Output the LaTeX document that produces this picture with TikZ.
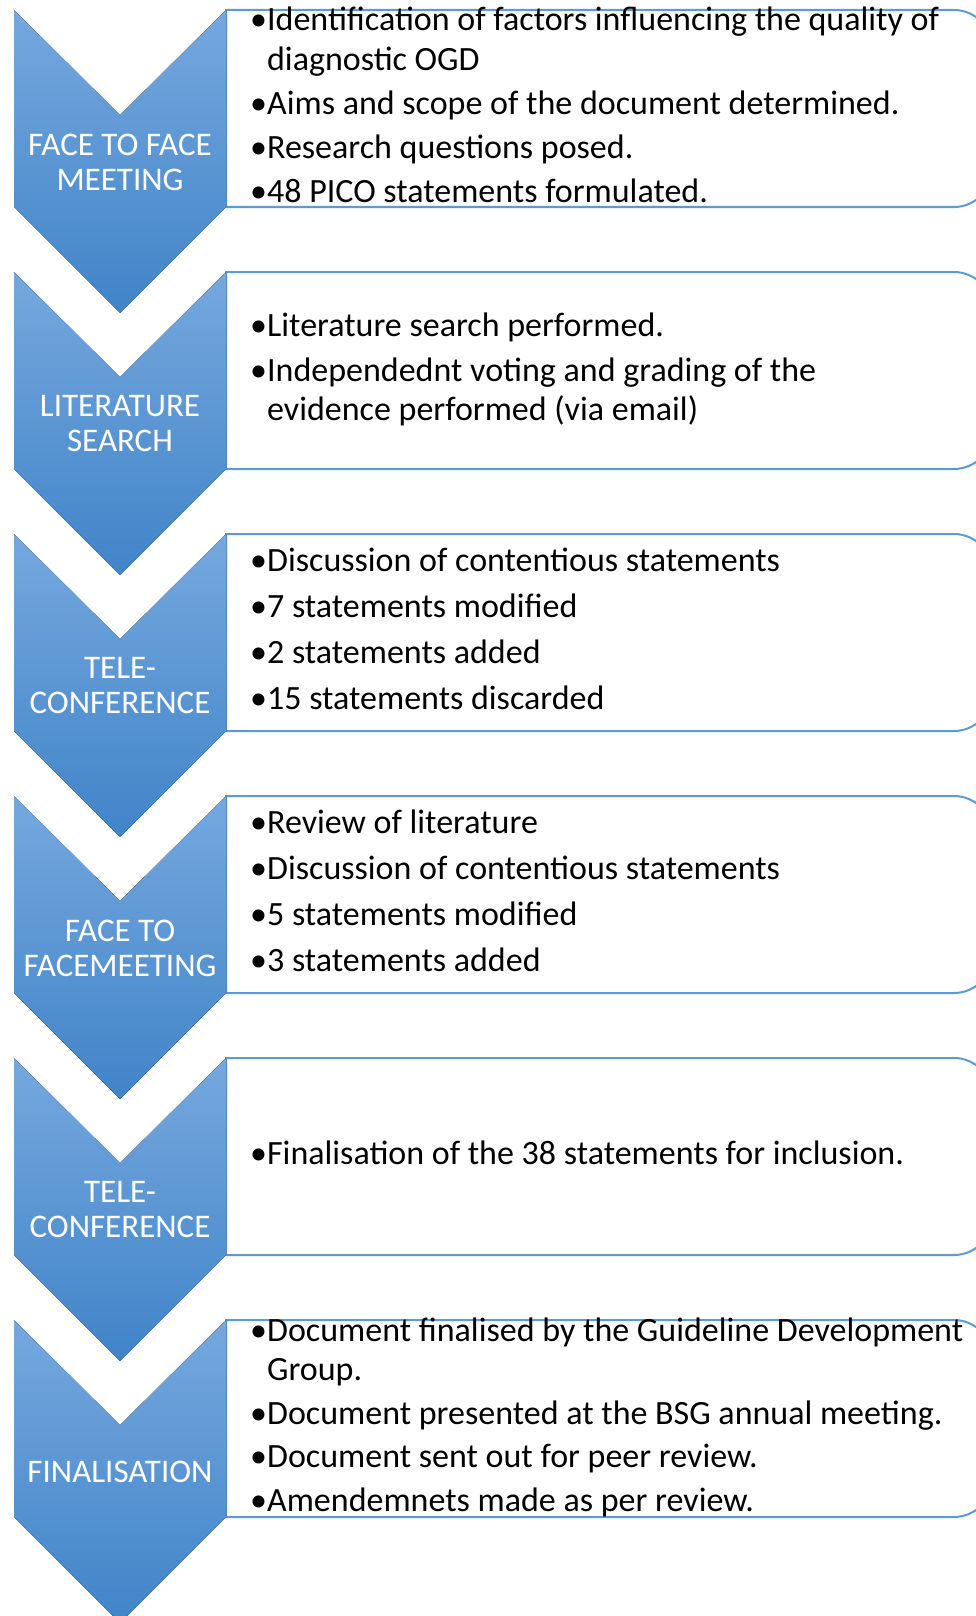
\documentclass[tikz,border=0pt]{standalone}
\usepackage{fontspec}
\setmainfont{Carlito}
\definecolor{chevtop}{RGB}{118,168,222}
\definecolor{chevbot}{RGB}{64,132,200}
\definecolor{boxline}{RGB}{91,155,213}
\newcommand{\gp}{4.5pt}
\newcommand{\stage}[5]{%
  \begin{scope}[yshift=-#2pt]
    \renewcommand{\gp}{#5}%
    \draw[panel] (226,0) -- (954,0) arc[start angle=90,end angle=0,radius=38] -- (992,-159)
      arc[start angle=0,end angle=-90,radius=38] -- (226,-197) -- cycle;
    \fill[chev] (14,0) -- (120,-105) -- (226,0) -- (226,-197) -- (120,-303) -- (14,-197) -- cycle;
    \node[lab] (#1l) at (120,-152) {#3};
    \node[txt] (#1t) at (250,-98.5) {\begin{tabular}{@{}l@{}l@{}}#4\end{tabular}};
  \end{scope}}
\begin{document}
\begin{tikzpicture}[x=1pt,y=1pt,
  chev/.style={top color=chevtop,bottom color=chevbot},
  panel/.style={draw=boxline,line width=2pt,fill=white},
  lab/.style={text=white,font=\fontsize{33}{35}\selectfont,align=center,inner sep=0},
  txt/.style={anchor=west,inner sep=0,font=\fontsize{34}{39.5}\selectfont}]
\useasboundingbox (0,0) rectangle (976,-1616);
\clip (0,0) rectangle (976,-1616);
\stage{a}{10}{FACE TO FACE\\MEETING}{•&Identification of factors influencing the quality of\\&diagnostic OGD\\[\gp]•&Aims and scope of the document determined.\\[\gp]•&Research questions posed.\\[\gp]•&48 PICO statements formulated.}{4.5pt}
\stage{b}{272}{LITERATURE\\SEARCH}{•&Literature search performed.\\[\gp]•&Independednt voting and grading of the\\&evidence performed (via email)}{5.8pt}
\stage{c}{534}{TELE-\\CONFERENCE}{•&Discussion of contentious statements\\[\gp]•&7 statements modified\\[\gp]•&2 statements added\\[\gp]•&15 statements discarded}{6.5pt}
\stage{d}{796}{FACE TO\\FACEMEETING}{•&Review of literature\\[\gp]•&Discussion of contentious statements\\[\gp]•&5 statements modified\\[\gp]•&3 statements added}{6.5pt}
\stage{e}{1058}{TELE-\\CONFERENCE}{•&Finalisation of the 38 statements for inclusion.}{5pt}
\stage{f}{1320}{FINALISATION}{•&Document finalised by the Guideline Development\\&Group.\\[\gp]•&Document presented at the BSG annual meeting.\\[\gp]•&Document sent out for peer review.\\[\gp]•&Amendemnets made as per review.}{4pt}
\end{tikzpicture}
\end{document}
